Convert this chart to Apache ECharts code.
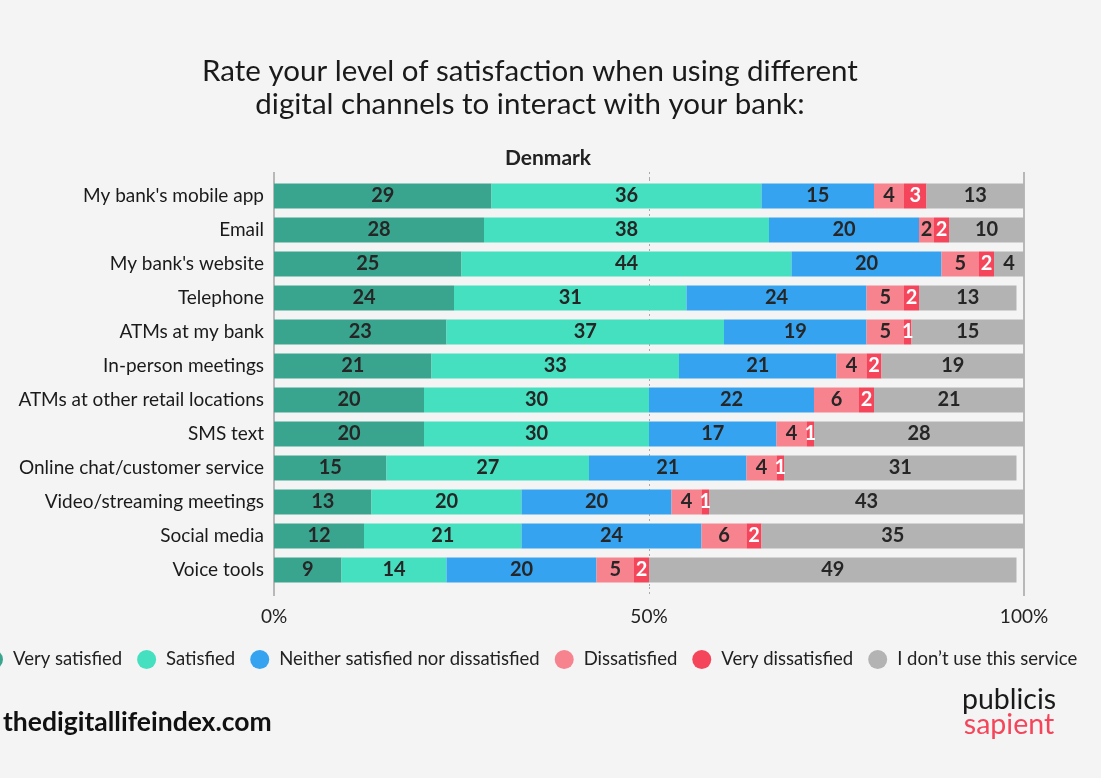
<!DOCTYPE html>
<html>
<head>
<meta charset="utf-8">
<script src="https://cdn.jsdelivr.net/npm/echarts@6/dist/echarts.min.js"></script>
<style>
  html, body { margin: 0; padding: 0; background: #f4f4f4; }
  #chart { width: 1101px; height: 778px; }
</style>
</head>
<body>
<div id="chart"></div>
<script>
const categories = ["My bank's mobile app", "Email", "My bank's website", "Telephone", "ATMs at my bank", "In-person meetings", "ATMs at other retail locations", "SMS text", "Online chat/customer service", "Video/streaming meetings", "Social media", "Voice tools"];
const seriesNames = ["Very satisfied", "Satisfied", "Neither satisfied nor dissatisfied", "Dissatisfied", "Very dissatisfied", "I don\u2019t use this service"];
const verySatisfied = [29, 28, 25, 24, 23, 21, 20, 20, 15, 13, 12, 9];
const satisfied = [36, 38, 44, 31, 37, 33, 30, 30, 27, 20, 21, 14];
const neither = [15, 20, 20, 24, 19, 21, 22, 17, 21, 20, 24, 20];
const dissatisfied = [4, 2, 5, 5, 5, 4, 6, 4, 4, 4, 6, 5];
const veryDissatisfied = [3, 2, 2, 2, 1, 2, 2, 1, 1, 1, 2, 2];
const dontUse = [13, 10, 4, 13, 15, 19, 21, 28, 31, 43, 35, 49];
const xTickLabels = ["0%", "50%", "100%"];

const seriesData = [verySatisfied, satisfied, neither, dissatisfied, veryDissatisfied, dontUse];
const colors = ["#3aa58f", "#45e0c0", "#35a3f0", "#f7838f", "#f5455a", "#b3b3b3"];
const labelColors = ["#262626", "#262626", "#262626", "#262626", "#ffffff", "#262626"];
const FONT = "Lato";

const chart = echarts.init(document.getElementById('chart'));

const baseX = {
  type: 'value', min: 0, max: 100, gridIndex: 0,
  axisLine: { show: false }, axisLabel: { show: false }
};

chart.setOption({
  backgroundColor: '#f4f4f4',
  textStyle: { fontFamily: FONT },
  title: [
    {
      text: 'Rate your level of satisfaction when using different\ndigital channels to interact with your bank:',
      left: 525, top: 50, textAlign: 'center',
      textStyle: { fontFamily: FONT, fontSize: 29.5, fontWeight: 'normal', color: '#1a1a1a', lineHeight: 33 }
    },
    {
      text: 'Denmark', left: 543, top: 143, textAlign: 'center',
      textStyle: { fontFamily: FONT, fontSize: 21, fontWeight: 'bold', color: '#222' }
    },
    {
      text: 'thedigitallifeindex.com', left: -2, top: 704,
      textStyle: { fontFamily: FONT, fontSize: 26.5, fontWeight: 'bold', color: '#111' }
    },
    {
      text: 'publicis', left: 1004, top: 680, textAlign: 'center',
      textStyle: { fontFamily: FONT, fontSize: 28.5, fontWeight: 'normal', color: '#1a1a1a' }
    },
    {
      text: 'sapient', left: 1004, top: 705, textAlign: 'center',
      textStyle: { fontFamily: FONT, fontSize: 28.5, fontWeight: 'normal', color: '#f5455a' }
    }
  ],
  legend: {
    data: seriesNames,
    left: -21, top: 645,
    icon: 'circle', itemWidth: 19, itemHeight: 19, itemGap: 15,
    textStyle: { fontFamily: FONT, fontSize: 18.5, color: '#222', padding: [0, 0, 0, 5] }
  },
  grid: { left: 274, right: 77, top: 179, bottom: 191, containLabel: false },
  xAxis: [
    Object.assign({}, baseX, {
      position: 'bottom', interval: 50,
      axisLabel: {
        show: true, margin: 20, fontFamily: FONT, fontSize: 19, color: '#222',
        formatter: (v) => xTickLabels[Math.round(v / 50)]
      },
      axisTick: { show: true, length: 9, lineStyle: { color: '#aaa', type: [2, 3], width: 1 } },
      splitLine: { show: true, lineStyle: { color: '#aaa', type: [2, 3], width: 1 } }
    }),
    Object.assign({}, baseX, {
      position: 'bottom', interval: 100,
      axisTick: { show: true, length: 9, lineStyle: { color: '#b8b8b8', width: 2 } },
      splitLine: { show: true, lineStyle: { color: '#b8b8b8', width: 2 } }
    }),
    Object.assign({}, baseX, {
      position: 'top', interval: 50,
      axisTick: { show: true, length: 7, lineStyle: { color: '#aaa', type: [2, 3], width: 1 } },
      splitLine: { show: false }
    }),
    Object.assign({}, baseX, {
      position: 'top', interval: 100,
      axisTick: { show: true, length: 7, lineStyle: { color: '#b8b8b8', width: 2 } },
      splitLine: { show: false }
    })
  ],
  yAxis: {
    type: 'category', data: categories, inverse: true,
    axisLine: { show: false },
    axisTick: { show: false },
    axisLabel: { margin: 10, fontFamily: FONT, fontSize: 19, color: '#1a1a1a' }
  },
  series: seriesNames.map((name, i) => ({
    name: name,
    type: 'bar',
    stack: 'total',
    xAxisIndex: 0,
    barWidth: 25,
    data: seriesData[i],
    itemStyle: { color: colors[i] },
    label: {
      show: true, position: 'inside',
      fontFamily: FONT, fontSize: 20, fontWeight: 'bold',
      color: labelColors[i]
    },
    emphasis: { disabled: true }
  }))
});
</script>
</body>
</html>
